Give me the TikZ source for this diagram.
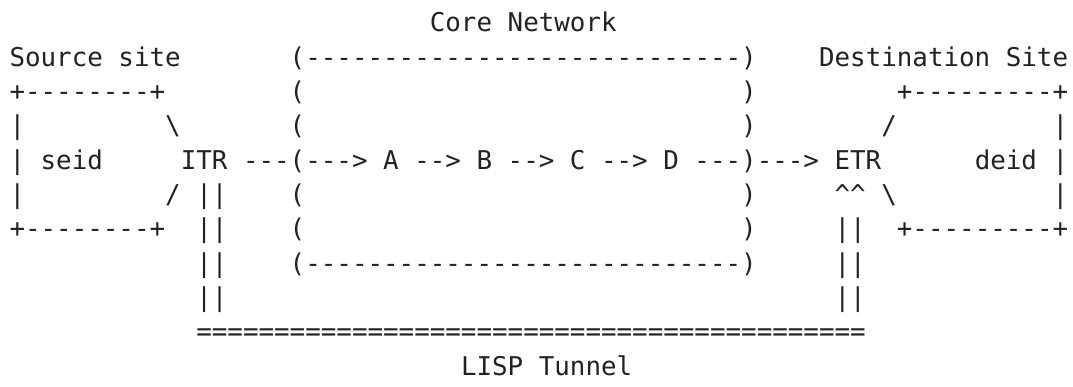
\documentclass[tikz,border=0pt]{standalone}
\usepackage{fontspec}
\setmonofont{DejaVu Sans Mono}
\definecolor{ink}{RGB}{34,34,34}
\newcommand\gap[1]{\hspace*{#1\fontcharwd\font`\x}}
\begin{document}
\begin{tikzpicture}[x=1pt,y=1pt,
  asc/.style={anchor=base west,inner sep=0pt,outer sep=0pt,text=ink,
    font=\ttfamily\fontsize{25.86}{34.3}\selectfont}]
\useasboundingbox (0,0) rectangle (1073,-387);
\def\X{9.5}
\node[asc] (l1) at (\X,-32.0) {\gap{27}Core~Network};
\node[asc] (l2) at (\X,-66.3) {Source~site\gap{7}({-------}{-------}{-------}{-------})\gap{4}Destination~Site};
\node[asc] (l3) at (\X,-100.6) {+{--------}+\gap{8}(\gap{28})\gap{9}+{---------}+};
\node[asc] (l4) at (\X,-134.9) {|\gap{9}\textbackslash\gap{7}(\gap{28})\gap{8}/\gap{10}|};
\node[asc] (l5) at (\X,-169.2) {|~seid\gap{5}ITR~{---}({--->}~A~{-->}~B~{-->}~C~{-->}~D~{---}){--->}~ETR\gap{6}deid~|};
\node[asc] (l6) at (\X,-203.5) {|\gap{9}/~||\gap{4}(\gap{28})\gap{5}\textasciicircum\textasciicircum~\textbackslash\gap{10}|};
\node[asc] (l7) at (\X,-237.8) {+{--------}+\gap{2}||\gap{4}(\gap{28})\gap{5}||\gap{2}+{---------}+};
\node[asc] (l8) at (\X,-272.1) {\gap{12}||\gap{4}({-------}{-------}{-------}{-------})\gap{5}||};
\node[asc] (l9) at (\X,-306.4) {\gap{12}||\gap{39}||};
\node[asc] (l10) at (\X,-340.7) {\gap{12}{==========}{==========}{==========}{==========}{===}};
\node[asc] (l11) at (\X,-375.0) {\gap{29}LISP~Tunnel};
\end{tikzpicture}
\end{document}
